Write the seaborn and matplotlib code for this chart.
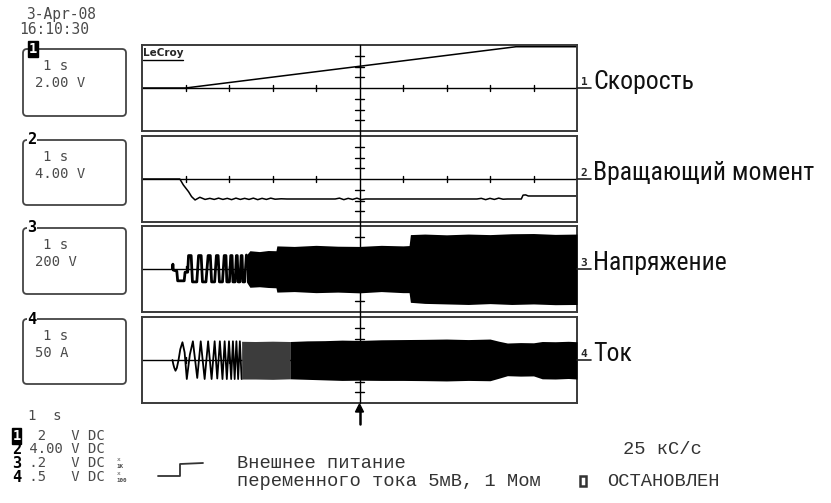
import numpy as np
import pandas as pd
import seaborn as sns
import matplotlib.pyplot as plt
from matplotlib.lines import Line2D
from matplotlib.patches import FancyBboxPatch, Polygon, Rectangle
from matplotlib import font_manager

# time axis in divisions (1 s/div), values in vertical divisions
speed_t = [0.0, 1.0, 8.6, 10.0]
speed_v = [0.0, 0.0, 3.84, 3.84]

torque_t = [0.0, 0.87, 0.95, 1.07, 1.14, 1.22, 1.33, 1.45, 1.56, 1.66, 1.76, 1.86, 1.96, 2.06, 2.16, 2.26,
            2.36, 2.46, 2.56, 2.66, 2.76, 2.86, 2.96, 3.06, 3.20, 3.33, 4.44, 4.54, 4.64, 4.74, 4.84, 4.94,
            5.04, 5.14, 7.70, 7.80, 7.90, 8.00, 8.10, 8.20, 8.30, 8.40, 8.72, 8.76, 8.82, 8.88, 10.0]
torque_v = [0.0, 0.0, -0.55, -1.18, -1.64, -1.95, -1.70, -1.90, -1.80, -1.90, -1.78, -1.90, -1.80, -1.92, -1.78, -1.90,
            -1.80, -1.90, -1.78, -1.92, -1.80, -1.90, -1.78, -1.88, -1.84, -1.86, -1.86, -1.78, -1.92, -1.80, -1.90, -1.78,
            -1.92, -1.86, -1.86, -1.80, -1.92, -1.80, -1.90, -1.78, -1.88, -1.86, -1.86, -1.50, -1.48, -1.58, -1.58]

volt_t = [0.70, 0.71, 0.72, 0.80, 0.82, 0.97, 0.99, 1.05, 1.07, 1.13, 1.16, 1.26, 1.30, 1.36, 1.39, 1.47,
          1.52, 1.57, 1.60, 1.67, 1.71, 1.75, 1.78, 1.85, 1.89, 1.93, 1.95, 2.01, 2.04, 2.07, 2.09, 2.14,
          2.17, 2.19, 2.21, 2.25, 2.28, 2.30, 2.32, 2.36, 2.40]
volt_v = [0.0, 0.45, -0.1, -0.2, -1.1, -1.1, -0.3, -0.3, 1.25, 1.25, -1.2, -1.2, 1.25, 1.25, -1.2, -1.2,
          1.25, 1.25, -1.2, -1.2, 1.25, 1.25, -1.2, -1.2, 1.25, 1.25, -1.2, -1.2, 1.25, 1.25, -1.2, -1.2,
          1.25, 1.25, -1.2, -1.2, 1.25, 1.25, -1.2, -1.2, 1.3]
venv_t = [2.40, 2.48, 2.70, 2.90, 3.08, 3.10, 3.50, 4.00, 4.50, 5.00, 5.50, 6.00, 6.14, 6.17, 6.50, 7.00,
          7.50, 8.00, 8.50, 9.00, 9.50, 10.0]
venv_hi = [1.3, 1.7, 1.62, 1.72, 1.7, 2.15, 2.1, 2.2, 2.12, 2.1, 2.2, 2.15, 2.18, 3.2, 3.25, 3.18,
           3.25, 3.2, 3.28, 3.3, 3.22, 3.25]
venv_lo = [-1.2, -1.7, -1.65, -1.72, -1.75, -2.15, -2.1, -2.2, -2.15, -2.22, -2.1, -2.2, -2.2, -3.1, -3.2, -3.25,
           -3.3, -3.22, -3.3, -3.25, -3.32, -3.3]

cur_t = [0.70, 0.72, 0.74, 0.77, 0.80, 0.84, 0.88, 0.93, 0.98, 1.03, 1.10, 1.17, 1.27, 1.35, 1.44, 1.52,
         1.60, 1.67, 1.73, 1.79, 1.85, 1.90, 1.95, 2.00, 2.05, 2.09, 2.13, 2.17, 2.21, 2.25, 2.29]
cur_v = [0.0, -0.4, -0.7, -1.0, -0.75, 0.0, 1.0, 1.65, 0.7, -1.77, 0.5, 1.74, -1.67, 1.74, -1.77, 1.74,
         -1.77, 1.74, -1.72, 1.74, -1.77, 1.74, -1.77, 1.74, -1.77, 1.74, -1.77, 1.74, -1.77, 1.74, -1.77]
cenv_t = [2.29, 2.6, 3.0, 3.4, 3.8, 4.2, 4.6, 5.0, 5.5, 6.0, 6.5, 7.0, 7.5, 8.0, 8.2, 8.4,
          8.7, 9.0, 9.2, 9.5, 9.8, 10.0]
cenv_hi = [1.74, 1.72, 1.75, 1.72, 1.78, 1.80, 1.85, 1.82, 1.88, 1.90, 1.92, 1.95, 1.90, 1.95, 1.75, 1.58,
           1.62, 1.60, 1.72, 1.70, 1.74, 1.70]
cenv_lo = [-1.77, -1.77, -1.80, -1.75, -1.80, -1.85, -1.90, -1.88, -1.90, -1.90, -1.92, -1.95, -1.90, -1.93, -1.70, -1.46,
           -1.50, -1.48, -1.75, -1.77, -1.72, -1.77]

channel_names = ['Скорость', 'Вращающий момент', 'Напряжение', 'Ток']
box_scale = [('1 s', '2.00 V'), ('1 s', '4.00 V'), ('1 s', '200 V'), ('1 s', '50 A')]
legend_rows = ['  2   V DC', ' 4.00 V DC', ' .2   V DC', ' .5   V DC']
legend_mult = ['', '', '1K', '100']

W, H = 831, 503
sns.set_theme(style='white')
names = {f.name for f in font_manager.fontManager.ttflist}
BIG, BIGSIZE, STRETCH = 'Roboto', 16, 'condensed'
for cand, size in [('Liberation Sans Narrow', 19.0), ('Roboto Condensed', 18.5), ('Open Sans Condensed', 17.5)]:
    if cand in names:
        BIG, BIGSIZE, STRETCH = cand, size, 'normal'
        break
MONO = 'DejaVu Sans Mono'
COUR = 'Liberation Mono'
GREY = '#4a4a4a'
plt.rcParams['font.family'] = ['DejaVu Sans']

fig = plt.figure(figsize=(W / 100, H / 100), dpi=100)
fig.patch.set_facecolor('white')


def fp(x, y):
    return x / W, 1 - y / H


def ftext(x, y, s, **kw):
    kw.setdefault('va', 'center')
    kw.setdefault('ha', 'left')
    fig.text(*fp(x, y), s, **kw)


def fline(xs, ys, **kw):
    fig.add_artist(Line2D([x / W for x in xs], [1 - y / H for y in ys], transform=fig.transFigure, **kw))


X0, X1 = 142, 577
panels = [(45, 131), (136, 222), (226, 312), (317, 403)]
axes = []
for y0, y1 in panels:
    ax = fig.add_axes([X0 / W, 1 - y1 / H, (X1 - X0) / W, (y1 - y0) / H])
    ax.set_xlim(0, 10)
    ax.set_ylim(-4, 4)
    ax.set_xticks([])
    ax.set_yticks([])
    for sp in ax.spines.values():
        sp.set_color('#3a3a3a')
        sp.set_linewidth(1.4)
    ax.axhline(0, color='black', lw=1.0, zorder=1)
    for i in range(1, 10):
        if i != 5:
            ax.plot([i, i], [-0.3, 0.3], color='black', lw=1.0, zorder=1)
    for j in [-3, -2, -1, 1, 2, 3]:
        ax.plot([4.9, 5.1], [j, j], color='black', lw=1.0, zorder=1)
    axes.append(ax)

# traces
sns.lineplot(x=speed_t, y=speed_v, ax=axes[0], color='black', lw=1.1, sort=False, estimator=None)
sns.lineplot(x=torque_t, y=torque_v, ax=axes[1], color='black', lw=1.1, sort=False, estimator=None)

sns.lineplot(x=volt_t, y=volt_v, ax=axes[2], color='black', lw=2.0, sort=False, estimator=None)
axes[2].fill_between(venv_t, venv_lo, venv_hi, color='black', lw=0, zorder=3)

sns.lineplot(x=cur_t, y=cur_v, ax=axes[3], color='black', lw=1.3, sort=False, estimator=None)
ct = np.array(cenv_t)
axes[3].fill_between(ct, cenv_lo, cenv_hi, where=ct <= 3.4, color='#3c3c3c', lw=0, zorder=3)
axes[3].fill_between(ct, cenv_lo, cenv_hi, where=ct >= 3.4, color='black', lw=0, zorder=3)

axes[0].text(0.03, 3.3, 'LeCroy', fontsize=7.5, fontweight='bold', va='center', ha='left')
axes[0].plot([0.03, 0.95], [2.6, 2.6], color='black', lw=1.0)

# vertical centre line through all panels and trigger arrow
fline([359.5, 359.5], [45, 403], color='black', lw=1.0)
fline([359.5, 359.5], [410, 424], color='black', lw=1.8)
fig.add_artist(Polygon([fp(355.5, 412), fp(363.5, 412), fp(359.5, 404)], closed=True,
                       transform=fig.transFigure, color='black'))

# channel markers and names on the right
for k, (y0, y1) in enumerate(panels):
    yc = (y0 + y1) / 2
    fline([577, 591], [yc, yc], color='#222222', lw=1.2)
    ftext(584, yc - 1, str(k + 1), fontsize=8, fontweight='bold', va='bottom', ha='center', family=MONO)
    ftext(593, yc - 6, channel_names[k], fontsize=BIGSIZE, fontstretch=STRETCH,
          family=[BIG, 'DejaVu Sans'], color='#111111')

# date / time
ftext(26, 14, '3-Apr-08', fontsize=10.5, family=MONO, color=GREY)
ftext(19, 30, '16:10:30', fontsize=10.5, family=MONO, color=GREY)

# left scale boxes
boxes = [(49, 116), (140, 205), (228, 294), (319, 384)]
for k, (b0, b1) in enumerate(boxes):
    fig.add_artist(FancyBboxPatch((23 / 100, (H - b1) / 100), 103 / 100, (b1 - b0) / 100,
                                  boxstyle='round,pad=0,rounding_size=0.04',
                                  transform=fig.dpi_scale_trans, fill=False,
                                  edgecolor='#444444', lw=1.3))
    if k == 0:
        ftext(28.5, b0, '1', fontsize=10, fontweight='bold', family=MONO, color='white',
              bbox=dict(facecolor='black', edgecolor='black', pad=0.6))
    else:
        ftext(27, b0, str(k + 1), fontsize=11, fontweight='bold', family=MONO, color='black',
              bbox=dict(facecolor='white', edgecolor='none', pad=0.3))
    ftext(43, b0 + 17, box_scale[k][0], fontsize=10, family=MONO, color=GREY)
    ftext(35, b0 + 34, box_scale[k][1], fontsize=10, family=MONO, color=GREY)

# bottom left legend
ftext(28, 416, '1  s', fontsize=10, family=MONO, color=GREY)
rows_y = [436, 449, 463, 477]
for k, ry in enumerate(rows_y):
    if k == 0:
        ftext(12.5, ry, '1', fontsize=10, fontweight='bold', family=MONO, color='white',
              bbox=dict(facecolor='black', edgecolor='black', pad=0.4))
    else:
        ftext(12, ry, str(k + 1), fontsize=11, fontweight='bold', family=MONO, color='black')
    ftext(21, ry, legend_rows[k], fontsize=10, family=MONO, color=GREY)
    if legend_mult[k]:
        ftext(117, ry - 3.5, 'x', fontsize=4.5, family=MONO, color=GREY)
        ftext(116, ry + 3, legend_mult[k], fontsize=4.2, family=MONO, color=GREY, fontweight='bold')

# external trigger step symbol
fline([158, 180, 180, 203], [476, 476, 464, 463], color='#333333', lw=1.3)

ftext(237, 463, 'Внешнее питание', fontsize=13.5, family=COUR, color='#333333')
ftext(237, 481, 'переменного тока 5мВ, 1 Мом', fontsize=13.5, family=COUR, color='#333333')
ftext(623, 449, '25 кС/с', fontsize=13.5, family=COUR, color='#333333')
fig.add_artist(Rectangle(fp(579.5, 486), 6 / W, 10 / H, transform=fig.transFigure,
                         fill=False, edgecolor='#333333', lw=1.8))
ftext(607, 481, 'ОСТАНОВЛЕН', fontsize=13.5, family=COUR, color='#333333')

fig.savefig('out.png', dpi=100)
